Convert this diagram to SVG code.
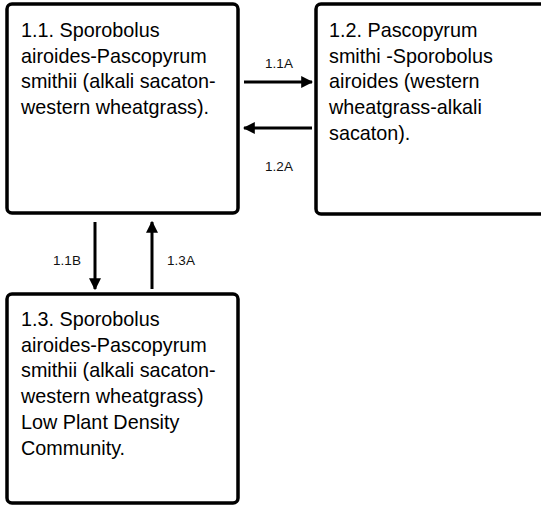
<svg xmlns="http://www.w3.org/2000/svg" width="541" height="506" viewBox="0 0 541 506">
<style>
.box{fill:#fff;stroke:#000;stroke-width:3.5}
.t{font-family:"Liberation Sans",Arial,sans-serif;font-size:19.8px;fill:#000}
.l{font-family:"Liberation Sans",Arial,sans-serif;font-size:13.5px;fill:#111;text-anchor:middle}
.c{stroke:#000;stroke-width:3;fill:none}
</style>
<defs>
<marker id="ah" viewBox="0 0 10 10" refX="9" refY="5" markerWidth="4" markerHeight="4" orient="auto" markerUnits="strokeWidth">
<path d="M0,0 L10,5 L0,10 Z" fill="#000"/>
</marker>
</defs>
<rect width="541" height="506" fill="#fff"/>
<g id="n11">
<rect class="box" x="7" y="4" width="231" height="209" rx="5"/>
<text class="t" x="21" y="37"><tspan x="21">1.1. Sporobolus</tspan><tspan x="21" dy="25.7">airoides-Pascopyrum</tspan><tspan x="21" dy="25.7">smithii (alkali sacaton-</tspan><tspan x="21" dy="25.7">western wheatgrass).</tspan></text>
</g>
<g id="n12">
<rect class="box" x="316" y="4" width="240" height="210" rx="5"/>
<text class="t" x="329" y="37"><tspan x="329">1.2. Pascopyrum</tspan><tspan x="329" dy="25.7">smithi -Sporobolus</tspan><tspan x="329" dy="25.7">airoides (western</tspan><tspan x="329" dy="25.7">wheatgrass-alkali</tspan><tspan x="329" dy="25.7">sacaton).</tspan></text>
</g>
<g id="n13">
<rect class="box" x="7" y="294" width="231" height="209" rx="5"/>
<text class="t" x="21" y="326"><tspan x="21">1.3. Sporobolus</tspan><tspan x="21" dy="25.7">airoides-Pascopyrum</tspan><tspan x="21" dy="25.7">smithii (alkali sacaton-</tspan><tspan x="21" dy="25.7">western wheatgrass)</tspan><tspan x="21" dy="25.7">Low Plant Density</tspan><tspan x="21" dy="25.7">Community.</tspan></text>
</g>
<g id="connectors">
<line class="c" x1="244" y1="82" x2="312" y2="82" marker-end="url(#ah)"/>
<line class="c" x1="312" y1="128" x2="244" y2="128" marker-end="url(#ah)"/>
<line class="c" x1="95" y1="222" x2="95" y2="289" marker-end="url(#ah)"/>
<line class="c" x1="152" y1="289" x2="152" y2="222" marker-end="url(#ah)"/>
<text class="l" x="279" y="68">1.1A</text>
<text class="l" x="279" y="171">1.2A</text>
<text class="l" x="67" y="265">1.1B</text>
<text class="l" x="181" y="265">1.3A</text>
</g>
</svg>
